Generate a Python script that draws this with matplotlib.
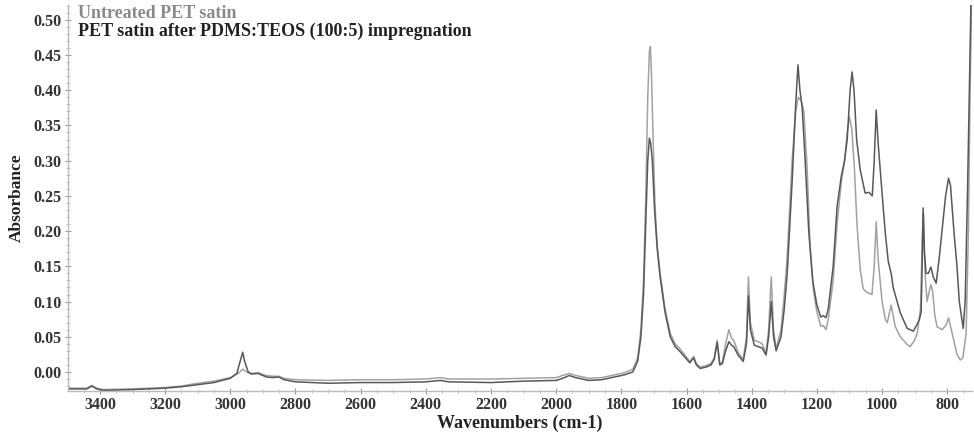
import matplotlib
matplotlib.use("Agg")
import matplotlib.pyplot as plt
from matplotlib.ticker import MultipleLocator, FormatStrFormatter

# ---- data ----
untreated_wn = [3498, 3440, 3425, 3410, 3390, 3300, 3200, 3150, 3100, 3050, 3000, 2975, 2962, 2950, 2935,
                2915, 2890, 2870, 2852, 2835, 2800, 2700, 2600, 2500, 2400, 2355, 2330, 2200, 2100, 2000,
                1980, 1960, 1940, 1900, 1860, 1820, 1790, 1765, 1750, 1740, 1732, 1725, 1719, 1714, 1711,
                1708, 1703, 1697, 1690, 1681, 1666, 1650, 1635, 1620, 1605, 1590, 1578, 1570, 1558, 1540,
                1525, 1515, 1506, 1498, 1490, 1480, 1470, 1462, 1455, 1442, 1426, 1416, 1410, 1404, 1392,
                1380, 1368, 1356, 1348, 1340, 1333, 1325, 1310, 1300, 1291, 1276, 1265, 1257, 1248, 1240,
                1230, 1221, 1210, 1200, 1188, 1180, 1172, 1165, 1150, 1138, 1125, 1115, 1107, 1100, 1093,
                1085, 1077, 1067, 1058, 1046, 1031, 1024, 1018, 1012, 1000, 990, 984, 972, 960, 944,
                925, 914, 900, 892, 882, 876, 873, 868, 862, 855, 850, 845, 838, 831, 815,
                802, 796, 790, 780, 770, 760, 752, 742, 735, 730, 725]
untreated_abs = [-0.023, -0.023, -0.019, -0.023, -0.025, -0.024, -0.022, -0.020, -0.016, -0.013, -0.008, -0.002, 0.004, 0.000, -0.002,
                 -0.001, -0.005, -0.006, -0.006, -0.009, -0.011, -0.012, -0.011, -0.011, -0.010, -0.008, -0.010, -0.010, -0.009, -0.008,
                 -0.005, -0.002, -0.005, -0.009, -0.008, -0.004, -0.001, 0.004, 0.020, 0.060, 0.130, 0.250, 0.390, 0.455, 0.462,
                 0.430, 0.340, 0.240, 0.180, 0.140, 0.090, 0.055, 0.040, 0.033, 0.024, 0.015, 0.022, 0.012, 0.007, 0.009,
                 0.012, 0.020, 0.045, 0.012, 0.014, 0.040, 0.060, 0.048, 0.045, 0.028, 0.018, 0.050, 0.135, 0.070, 0.045,
                 0.043, 0.040, 0.027, 0.060, 0.135, 0.060, 0.033, 0.060, 0.110, 0.165, 0.300, 0.370, 0.390, 0.385, 0.370,
                 0.290, 0.180, 0.115, 0.085, 0.065, 0.066, 0.060, 0.075, 0.130, 0.210, 0.270, 0.300, 0.340, 0.362, 0.345,
                 0.290, 0.210, 0.146, 0.118, 0.113, 0.110, 0.150, 0.213, 0.160, 0.100, 0.075, 0.070, 0.095, 0.065, 0.050,
                 0.040, 0.036, 0.045, 0.055, 0.090, 0.200, 0.225, 0.140, 0.100, 0.115, 0.124, 0.115, 0.080, 0.064, 0.060,
                 0.068, 0.077, 0.065, 0.045, 0.025, 0.017, 0.020, 0.055, 0.200, 0.400, 0.530]

treated_wn = [3498, 3440, 3425, 3410, 3390, 3300, 3200, 3150, 3100, 3050, 3000, 2980, 2968, 2962, 2956,
              2945, 2935, 2915, 2890, 2870, 2852, 2835, 2800, 2700, 2600, 2500, 2400, 2355, 2330, 2200,
              2100, 2000, 1980, 1960, 1940, 1900, 1860, 1820, 1790, 1765, 1750, 1740, 1732, 1725, 1719,
              1714, 1710, 1705, 1698, 1690, 1681, 1666, 1650, 1635, 1620, 1605, 1590, 1578, 1570, 1558,
              1540, 1525, 1515, 1506, 1498, 1490, 1480, 1470, 1462, 1455, 1442, 1426, 1416, 1410, 1404,
              1392, 1380, 1368, 1356, 1348, 1340, 1333, 1325, 1310, 1300, 1291, 1276, 1265, 1258, 1252,
              1245, 1236, 1225, 1213, 1200, 1188, 1180, 1172, 1165, 1150, 1138, 1125, 1115, 1107, 1098,
              1092, 1086, 1078, 1067, 1052, 1040, 1030, 1024, 1018, 1012, 1000, 990, 981, 972, 966,
              944, 923, 904, 892, 885, 880, 877, 874, 870, 865, 858, 850, 843, 834, 825,
              819, 805, 796, 790, 779, 770, 763, 751, 745, 738, 733, 727, 724]
treated_abs = [-0.024, -0.024, -0.020, -0.024, -0.026, -0.025, -0.023, -0.021, -0.018, -0.015, -0.009, -0.002, 0.018, 0.028, 0.015,
               0.000, -0.003, -0.002, -0.007, -0.008, -0.007, -0.011, -0.014, -0.016, -0.015, -0.015, -0.014, -0.012, -0.014, -0.015,
               -0.013, -0.012, -0.009, -0.005, -0.008, -0.012, -0.011, -0.007, -0.004, 0.000, 0.015, 0.050, 0.110, 0.210, 0.300,
               0.332, 0.325, 0.300, 0.230, 0.175, 0.135, 0.085, 0.050, 0.036, 0.029, 0.021, 0.013, 0.020, 0.010, 0.005,
               0.007, 0.010, 0.018, 0.042, 0.010, 0.012, 0.030, 0.043, 0.038, 0.036, 0.024, 0.015, 0.040, 0.108, 0.060,
               0.038, 0.036, 0.034, 0.024, 0.050, 0.100, 0.050, 0.030, 0.050, 0.090, 0.140, 0.270, 0.380, 0.436, 0.400,
               0.375, 0.300, 0.200, 0.130, 0.095, 0.078, 0.080, 0.077, 0.090, 0.150, 0.235, 0.278, 0.300, 0.330, 0.400,
               0.426, 0.400, 0.330, 0.287, 0.254, 0.255, 0.250, 0.300, 0.372, 0.325, 0.254, 0.197, 0.157, 0.140, 0.120,
               0.084, 0.062, 0.058, 0.068, 0.075, 0.085, 0.150, 0.233, 0.170, 0.140, 0.140, 0.149, 0.135, 0.126, 0.160,
               0.187, 0.250, 0.275, 0.265, 0.197, 0.150, 0.100, 0.062, 0.100, 0.250, 0.380, 0.530, 0.560]

x_ticks = [3400, 3200, 3000, 2800, 2600, 2400, 2200, 2000, 1800, 1600, 1400, 1200, 1000, 800]
y_ticks = [0.00, 0.05, 0.10, 0.15, 0.20, 0.25, 0.30, 0.35, 0.40, 0.45, 0.50]
legend_labels = ["Untreated PET satin", "PET satin after PDMS:TEOS (100:5) impregnation"]

# ---- figure ----
plt.rcParams['font.family'] = ['Liberation Serif', 'DejaVu Serif']
fig = plt.figure(figsize=(9.74, 4.34), dpi=100)
ax = fig.add_axes([68 / 974, 1 - 391 / 434, 904 / 974, 386 / 434])

light = "#a2a2a2"
dark = "#585858"
ax.plot(untreated_wn, untreated_abs, color=light, lw=1.1)
ax.plot(treated_wn, treated_abs, color=dark, lw=1.1)

ax.set_xlim(3498, 724)
ax.set_ylim(-0.027, 0.521)

for s in ("top", "right"):
    ax.spines[s].set_visible(False)
for s in ("left", "bottom"):
    ax.spines[s].set_color("#bbbbbb")
    ax.spines[s].set_linewidth(1.0)

ax.set_xticks(x_ticks)
ax.set_yticks(y_ticks)
ax.yaxis.set_major_formatter(FormatStrFormatter("%.2f"))
ax.xaxis.set_minor_locator(MultipleLocator(50))
ax.yaxis.set_minor_locator(MultipleLocator(0.01))
ax.tick_params(axis="both", which="major", direction="inout", length=5, width=0.8,
               color="#999999", labelsize=11.5, labelcolor="#333333", pad=2)
ax.tick_params(axis="both", which="minor", direction="inout", length=3, width=0.6, color="#bbbbbb")
for lab in ax.get_xticklabels() + ax.get_yticklabels():
    lab.set_fontweight("bold")

ax.set_xlabel("Wavenumbers (cm-1)", fontsize=13, fontweight="bold", color="#222222", labelpad=1)
ax.set_ylabel("Absorbance", fontsize=12.5, fontweight="bold", color="#222222", labelpad=6)

ax.text(78 / 974, 1 - 14 / 434, legend_labels[0], transform=fig.transFigure, fontsize=13,
        fontweight="bold", color="#8a8a8a", va="center", ha="left")
ax.text(78 / 974, 1 - 31 / 434, legend_labels[1], transform=fig.transFigure, fontsize=13,
        fontweight="bold", color="#222222", va="center", ha="left")

fig.savefig("out.png", dpi=100)
